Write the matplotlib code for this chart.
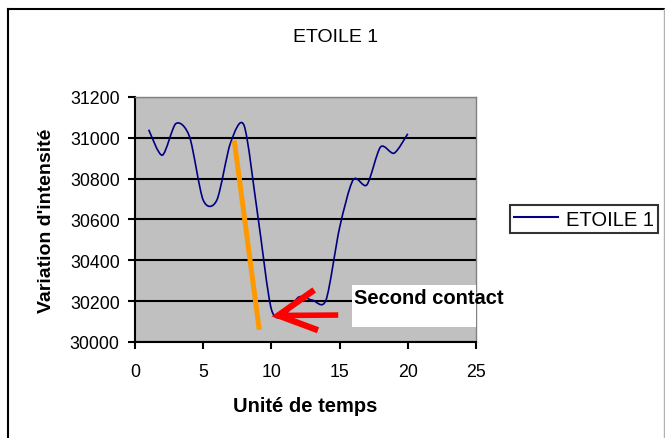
import numpy as np
import matplotlib
matplotlib.use("Agg")
import matplotlib.pyplot as plt
from matplotlib.path import Path
from matplotlib.patches import PathPatch, Rectangle
from matplotlib.lines import Line2D

#########
# DATA  #
#########

TITLE = "ETOILE 1"
SERIES_NAME = "ETOILE 1"
X_LABEL = "Unité de temps"
Y_LABEL = "Variation d'intensité"

time_units = [1, 2, 3, 4, 5, 6, 7, 8, 9, 10,
              11, 12, 13, 14, 15, 16, 17, 18, 19, 20]
intensity = [31040, 30915, 31070, 31005, 30695, 30695, 30975, 31060, 30620, 30160,
             30135, 30220, 30205, 30205, 30560, 30795, 30770, 30955, 30925, 31020]

x_ticks = [0, 5, 10, 15, 20, 25]
y_ticks = [30000, 30200, 30400, 30600, 30800, 31000, 31200]

# hand drawn annotations (data coordinates)
orange_x = [7.28, 9.11]
orange_y = [30986, 30060]
arrow_tip = (10.5, 30130)
arrow_tail = (14.9, 30132)
arrow_barb_up = (12.95, 30246)
arrow_barb_down = (13.2, 30063)
note_text = "Second contact"
note_pos = (16.05, 30218)
note_box_x = (15.9, 25.0)
note_box_y = (30073, 30278)

####################
# HELPER FUNCTIONS #
####################

# Excel style smoothed line as a chain of cubic bezier segments
def smooth_path(x, y, tension=0.14):
    pts = np.column_stack([x, y]).astype(float)
    n = len(pts)
    verts = [pts[0]]
    codes = [Path.MOVETO]
    for i in range(n - 1):
        p0 = pts[i - 1] if i > 0 else pts[i]
        p1 = pts[i]
        p2 = pts[i + 1]
        p3 = pts[i + 2] if i + 2 < n else pts[i + 1]
        c1 = p1 + (p2 - p0) * tension
        c2 = p2 - (p3 - p1) * tension
        verts += [c1, c2, p2]
        codes += [Path.CURVE4] * 3
    return Path(verts, codes)


if __name__ == "__main__":
    plt.rcParams["font.family"] = ["Liberation Sans", "DejaVu Sans"]

    fig = plt.figure(figsize=(6.65, 4.39), dpi=100)
    ax = fig.add_axes([135 / 665, 1 - 343 / 439, 341 / 665, 245 / 439])

    ax.set_facecolor("#C0C0C0")
    ax.set_xlim(0, 25)
    ax.set_ylim(30000, 31200)
    ax.set_xticks(x_ticks)
    ax.set_yticks(y_ticks)
    ax.tick_params(direction="out", length=5, width=1.5, labelsize=12.8, pad=6)
    ax.tick_params(axis="x", pad=10)

    for side in ("left", "bottom"):
        ax.spines[side].set_color("black")
        ax.spines[side].set_linewidth(1.5)
    for side in ("top", "right"):
        ax.spines[side].set_color("#808080")
        ax.spines[side].set_linewidth(1.0)

    ax.yaxis.grid(True, color="black", linewidth=1.5)
    ax.set_axisbelow(True)

    # series
    curve = PathPatch(smooth_path(time_units, intensity), facecolor="none",
                      edgecolor="#000080", linewidth=1.2, zorder=3)
    ax.add_patch(curve)

    # annotations
    ax.plot(orange_x, orange_y, color="#FF9900", linewidth=3.6,
            solid_capstyle="butt", zorder=4)
    ax.plot([arrow_tip[0], arrow_tail[0]], [arrow_tip[1], arrow_tail[1]],
            color="#FF0000", linewidth=4, solid_capstyle="butt", zorder=4)
    ax.plot([arrow_barb_up[0], arrow_tip[0], arrow_barb_down[0]],
            [arrow_barb_up[1], arrow_tip[1], arrow_barb_down[1]],
            color="#FF0000", linewidth=4.5, solid_joinstyle="miter", zorder=4)

    ax.add_patch(Rectangle((note_box_x[0], note_box_y[0]),
                           note_box_x[1] - note_box_x[0], note_box_y[1] - note_box_y[0],
                           facecolor="white", edgecolor="none", zorder=5))
    ax.text(note_pos[0], note_pos[1], note_text, fontsize=14.5, fontweight="bold",
            va="center", ha="left", zorder=6, clip_on=False)

    ax.set_xlabel(X_LABEL, fontsize=14.5, fontweight="bold", labelpad=12)
    ax.set_ylabel(Y_LABEL, fontsize=14, fontweight="bold", labelpad=11)
    fig.text(336 / 665, 1 - 38 / 439, TITLE, fontsize=14, ha="center", va="center")

    # legend
    handle = Line2D([], [], color="#000080", linewidth=1.5)
    leg = fig.legend([handle], [SERIES_NAME], loc="center left",
                     bbox_to_anchor=(510 / 665, 1 - 220 / 439), fontsize=14.5,
                     frameon=True, fancybox=False, handlelength=2.2,
                     borderpad=0.2, handletextpad=0.4, borderaxespad=0)
    leg.get_frame().set_edgecolor("black")
    leg.get_frame().set_linewidth(1.5)

    # chart border
    fig.add_artist(Line2D([8 / 665, 1], [1 - 10 / 439, 1 - 10 / 439],
                          transform=fig.transFigure, color="black", linewidth=1.5))
    fig.add_artist(Line2D([8 / 665, 8 / 665], [0, 1 - 10 / 439],
                          transform=fig.transFigure, color="black", linewidth=1.5))
    fig.add_artist(Line2D([663.5 / 665, 663.5 / 665], [0, 1 - 10 / 439],
                          transform=fig.transFigure, color="#B0B0B0", linewidth=1.0))

    fig.savefig("out.png", dpi=100)
